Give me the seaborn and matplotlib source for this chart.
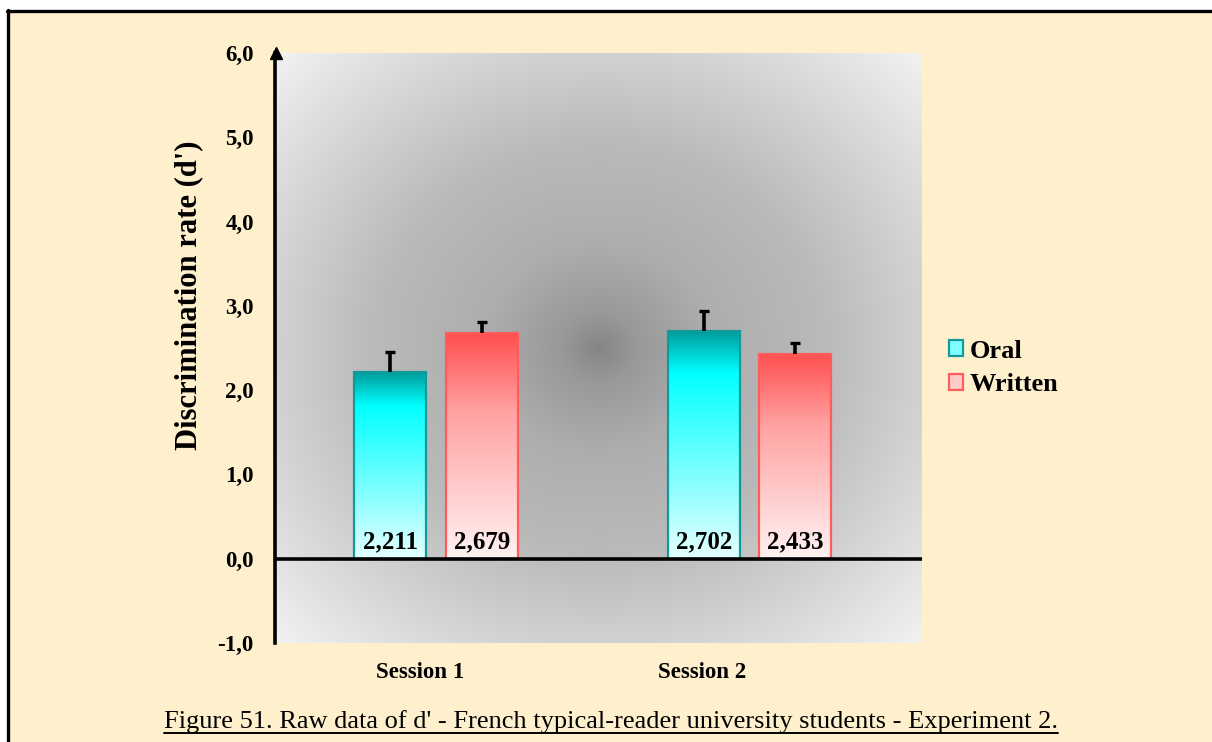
import numpy as np
import pandas as pd
import matplotlib
matplotlib.use("Agg")
import matplotlib.pyplot as plt
from matplotlib.colors import LinearSegmentedColormap
from matplotlib.patches import Patch, Rectangle
from matplotlib.lines import Line2D
import seaborn as sns

# ---- data -------------------------------------------------------------
sessions = ["Session 1", "Session 2"]
modalities = ["Oral", "Written"]
oral_means = [2.211, 2.702]
written_means = [2.679, 2.433]
oral_errors = [0.24, 0.24]
written_errors = [0.13, 0.13]
y_ticks = [-1, 0, 1, 2, 3, 4, 5, 6]
y_tick_labels = ["-1,0", "0,0", "1,0", "2,0", "3,0", "4,0", "5,0", "6,0"]
y_label = "Discrimination rate (d')"
caption = ("Figure 51. Raw data of d' - French typical-reader university "
           "students - Experiment 2.")

df = pd.DataFrame({
    "Session": sessions * 2,
    "Modality": [modalities[0]] * 2 + [modalities[1]] * 2,
    "d": oral_means + written_means,
    "err": oral_errors + written_errors,
})

# ---- style ------------------------------------------------------------
sns.set_theme(style="white")
plt.rcParams["font.family"] = ["Liberation Serif", "DejaVu Serif"]
plt.rcParams.update({"text.color": "black", "axes.labelcolor": "black",
                     "xtick.color": "black", "ytick.color": "black"})

CREAM = "#fff0cd"
gradients = {
    "Oral": LinearSegmentedColormap.from_list(
        "oral", [(0.0, "#009c9c"), (0.18, "#00ffff"), (1.0, "#e6ffff")]),
    "Written": LinearSegmentedColormap.from_list(
        "written", [(0.0, "#ff4f4f"), (0.35, "#ffa2a2"), (1.0, "#fff2f2")]),
}
edges = {"Oral": "#149999", "Written": "#ff5c5c"}

fig = plt.figure(figsize=(12.12, 7.42), dpi=100, facecolor="white")

# cream page with a black frame on the left and top
fig.patches.append(Rectangle((8 / 1212, 0), 1, 1 - 11 / 742,
                             transform=fig.transFigure, facecolor=CREAM,
                             edgecolor="none", zorder=-10))
fig.lines.append(Line2D([8 / 1212, 8 / 1212], [0, 1 - 10 / 742],
                        transform=fig.transFigure, color="black", lw=2.4))
fig.lines.append(Line2D([7 / 1212, 1], [1 - 11 / 742, 1 - 11 / 742],
                        transform=fig.transFigure, color="black", lw=2.4))

ax = fig.add_axes([276 / 1212, 1 - 643 / 742, 646 / 1212, 590 / 742])
ax.set_facecolor("none")

# radial grey backdrop of the plot area
gx, gy = np.meshgrid(np.linspace(-1, 1, 400), np.linspace(-1, 1, 400))
dist = np.sqrt(gx ** 2 + gy ** 2)
shade = np.interp(dist, [0, 0.12, 0.35, 0.7, 1.0, 1.42],
                  [0.52, 0.60, 0.68, 0.73, 0.82, 0.95])
ax.imshow(np.dstack([shade] * 3), extent=[0, 1, 0, 1],
          transform=ax.transAxes, aspect="auto", zorder=0,
          interpolation="bilinear")

sns.barplot(data=df, x="Session", y="d", hue="Modality", order=sessions,
            hue_order=modalities, width=0.584, gap=0.21, errorbar=None,
            ax=ax, legend=False, zorder=2)

# gradient fills, error bars and value labels for each bar
bars = list(ax.patches)
order = [(m, s) for m in modalities for s in sessions]
for patch, (mod, ses) in zip(bars, order):
    row = df[(df.Modality == mod) & (df.Session == ses)].iloc[0]
    x0 = patch.get_x()
    w = patch.get_width()
    h = patch.get_height()
    patch.set_facecolor("none")
    patch.set_edgecolor(edges[mod])
    patch.set_linewidth(1.6)
    patch.set_zorder(4)
    grad = np.linspace(0, 1, 256).reshape(-1, 1)
    # row 0 (darkest) sits at the top of the bar
    ax.imshow(grad, cmap=gradients[mod], extent=[x0, x0 + w, 0, h],
              origin="upper", aspect="auto", zorder=3,
              interpolation="bilinear")
    xc = x0 + w / 2
    top = row.d + row.err
    ax.vlines(xc, row.d, top, color="black", lw=2.6, zorder=5)
    ax.plot([xc], [top], marker="_", markersize=7, mew=2.4, color="black",
            zorder=5)
    ax.text(xc, 0.06, f"{row.d:.3f}".replace(".", ","), ha="center",
            va="bottom", fontsize=18, fontweight="bold", color="black",
            zorder=6)

ax.set_xlim(-0.51, 1.55)
ax.set_ylim(-1, 6)

# zero line
ax.axhline(0, color="black", lw=2.6, zorder=5)

# axes: only the left spine, capped by an arrow head
for side in ["top", "right", "bottom"]:
    ax.spines[side].set_visible(False)
ax.spines["left"].set_color("black")
ax.spines["left"].set_linewidth(2.6)
ax.spines["left"].set_position(("outward", 1))
ax.plot([0], [1.0], marker="^", color="black", markersize=8,
        transform=ax.transAxes, clip_on=False, zorder=7)

ax.set_yticks(y_ticks)
ax.set_yticklabels(y_tick_labels, fontsize=16.5, fontweight="bold")
ax.tick_params(axis="y", length=0, pad=15)

label_shift = [-0.05, -0.15]
ax.set_xticks(np.arange(len(sessions)) + np.array(label_shift))
ax.set_xticklabels(sessions, fontsize=16.5, fontweight="bold")
ax.tick_params(axis="x", length=0, pad=14)
ax.set_xlabel("")
ax.set_ylabel(y_label, fontsize=22, fontweight="bold")
ax.yaxis.set_label_coords(-0.113, 0.59)

# legend
handles = [Patch(facecolor="#80ffff", edgecolor=edges["Oral"], lw=1.6),
           Patch(facecolor="#ffcaca", edgecolor=edges["Written"], lw=1.6)]
fig.legend(handles, modalities, loc="upper left",
           bbox_to_anchor=(925 / 1212, 1 - 316 / 742), frameon=False,
           prop={"size": 19, "weight": "bold"}, handlelength=0.55,
           handleheight=0.55, handletextpad=0.25, labelspacing=0.4)

# underlined caption
cap = fig.text(0.504, 0.0189, caption, ha="center", va="baseline",
               fontsize=19, color="black")
fig.canvas.draw()
bb = cap.get_window_extent().transformed(fig.transFigure.inverted())
fig.lines.append(Line2D([bb.x0, bb.x1], [0.0121, 0.0121],
                        transform=fig.transFigure, color="black", lw=1.4))

fig.savefig("out.png", dpi=100, facecolor="white")
